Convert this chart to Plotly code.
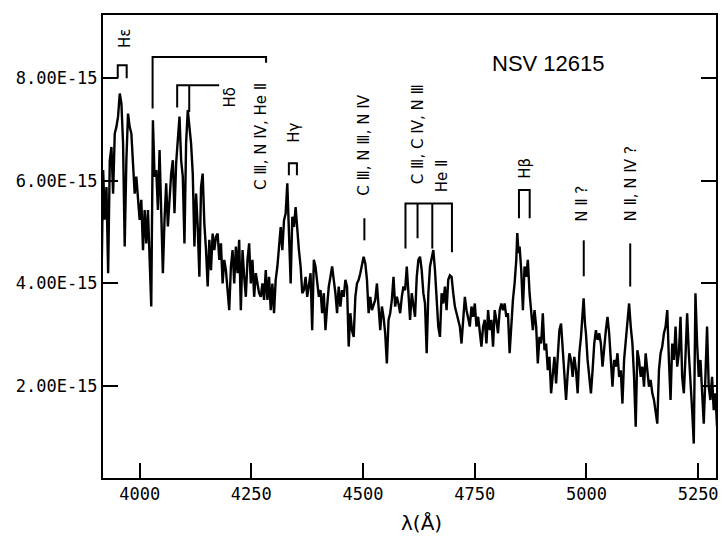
import plotly.graph_objects as go

# ---------------- data (wavelength in Angstrom, flux in units of 1e-15) ----------------
wl_a = [3914.6, 3918.3, 3922.0, 3925.8, 3929.5, 3933.2, 3936.9, 3940.6, 3944.3, 3948.0,
        3951.7, 3955.5, 3959.2, 3962.9, 3966.6, 3970.3, 3974.0, 3977.7, 3981.5, 3985.2,
        3988.9, 3992.6, 3996.3, 4000.0, 4003.7, 4007.5, 4011.2, 4014.9, 4018.6, 4022.3,
        4026.0, 4029.7, 4033.4, 4037.2, 4040.9, 4044.6, 4048.3, 4052.0, 4055.7, 4059.4,
        4063.2, 4066.9, 4070.6, 4074.3, 4078.0, 4081.7, 4085.4, 4089.2, 4092.9, 4096.6,
        4100.3, 4104.0, 4107.7, 4111.4, 4115.1, 4118.9, 4122.6, 4126.3, 4130.0, 4133.7,
        4137.4, 4141.1]
fl_a = [4.00, 6.21, 5.24, 5.88, 4.20, 6.40, 6.66, 5.75, 6.92, 7.05,
        7.25, 7.70, 7.51, 6.73, 4.72, 6.40, 7.31, 7.05, 6.92, 6.40,
        5.75, 6.08, 5.63, 5.24, 5.63, 4.65, 5.43, 4.78, 5.43, 4.59,
        3.55, 7.18, 6.08, 6.21, 5.43, 6.60, 5.37, 4.20, 5.24, 5.95,
        5.11, 5.63, 6.14, 6.40, 5.37, 6.34, 6.73, 7.25, 6.40, 6.08,
        4.78, 6.73, 7.38, 7.05, 6.73, 6.14, 4.72, 5.75, 5.11, 4.13,
        5.88, 6.14]

wl_b = [4144.8, 4148.6, 4152.3, 4156.0, 4159.7, 4163.4, 4167.1, 4170.8, 4174.6, 4178.3,
        4182.0, 4185.7, 4189.4, 4193.1, 4196.8, 4200.5, 4204.3, 4208.0, 4211.7, 4215.4,
        4219.1, 4222.8, 4226.5, 4230.3, 4234.0, 4237.7, 4241.4, 4245.1, 4248.8, 4252.5,
        4256.3, 4260.0, 4263.7, 4267.4, 4271.1, 4274.8, 4278.5, 4282.3, 4286.0, 4289.7,
        4293.4, 4297.1, 4300.8, 4304.5, 4308.3, 4312.0, 4315.7, 4319.4, 4323.1, 4326.8,
        4330.5, 4334.3, 4338.0, 4341.7, 4345.4, 4349.1, 4352.8, 4356.5, 4360.3, 4364.0]
fl_b = [5.17, 4.65, 3.94, 4.85, 4.26, 4.97, 4.65, 4.91, 4.97, 4.46,
        4.78, 4.00, 4.46, 4.26, 3.87, 3.48, 4.33, 4.65, 4.00, 4.72,
        4.20, 4.85, 3.48, 4.65, 4.13, 3.74, 4.46, 4.78, 4.00, 4.46,
        3.74, 4.20, 4.00, 3.81, 3.74, 4.00, 3.68, 4.26, 3.68, 4.13,
        3.48, 4.00, 3.42, 4.07, 4.33, 4.65, 5.10, 4.65, 5.23, 5.36,
        5.95, 4.97, 4.00, 5.30, 5.10, 5.49, 4.97, 4.65, 4.33, 3.81]

wl_c = [4367.6, 4371.4, 4375.1, 4378.8, 4382.5, 4386.2, 4389.9, 4393.6, 4397.4, 4401.1,
        4404.8, 4408.5, 4412.2, 4415.9, 4419.6, 4423.3, 4427.1, 4430.8, 4434.5, 4438.2,
        4441.9, 4445.6, 4449.3, 4453.1, 4456.8, 4460.5, 4464.2, 4467.9, 4471.6, 4475.3,
        4479.1, 4482.8, 4486.5, 4490.2, 4493.9, 4497.6, 4501.3, 4505.1, 4508.8, 4512.5,
        4516.2, 4519.9, 4523.6, 4527.3, 4531.1, 4534.8, 4538.5, 4542.2, 4545.9, 4549.6,
        4553.3, 4557.1, 4560.8, 4564.5, 4568.2, 4571.9, 4575.6, 4579.3, 4583.1, 4586.8]
fl_c = [3.87, 4.13, 3.74, 3.94, 4.20, 3.09, 4.46, 4.33, 4.07, 3.74,
        3.87, 3.42, 3.81, 3.09, 3.55, 3.94, 4.13, 4.33, 4.07, 3.81,
        3.42, 3.94, 3.55, 3.87, 3.74, 4.07, 3.94, 2.77, 3.42, 3.09,
        2.96, 3.74, 4.00, 4.07, 4.20, 4.33, 4.52, 4.39, 4.07, 3.42,
        3.74, 3.48, 3.61, 3.68, 4.00, 3.42, 3.09, 3.55, 3.35, 3.03,
        2.44, 3.29, 3.42, 3.68, 4.13, 3.55, 3.74, 3.61, 3.42, 3.74]

wl_d = [4590.4, 4594.2, 4597.9, 4601.6, 4605.3, 4609.0, 4612.7, 4616.4, 4620.2, 4623.9,
        4627.6, 4631.3, 4635.0, 4638.7, 4642.4, 4646.2, 4649.9, 4653.6, 4657.3, 4661.0,
        4664.7, 4668.4, 4672.2, 4675.9, 4679.6, 4683.3, 4687.0, 4690.7, 4694.4, 4698.2,
        4701.9, 4705.6, 4709.3, 4713.0, 4716.7, 4720.4, 4724.2, 4727.9, 4731.6, 4735.3,
        4739.0, 4742.7, 4746.4, 4750.2, 4753.9, 4757.6, 4761.3, 4765.0, 4768.7, 4772.4,
        4776.2, 4779.9, 4783.6, 4787.3, 4791.0, 4794.7, 4798.4, 4802.1, 4805.9, 4809.6]
fl_d = [3.94, 3.87, 4.33, 3.81, 3.29, 3.81, 3.55, 3.35, 4.13, 4.46,
        4.52, 4.26, 3.81, 3.61, 2.64, 3.81, 4.33, 4.46, 4.65, 4.26,
        3.68, 3.16, 2.96, 3.81, 3.61, 3.94, 3.48, 4.07, 4.16, 4.13,
        3.81, 3.55, 3.42, 3.29, 3.16, 2.83, 3.35, 3.74, 3.48, 3.29,
        3.16, 3.55, 3.35, 3.61, 3.16, 3.35, 3.03, 2.77, 3.16, 3.29,
        2.83, 3.48, 3.09, 3.29, 2.77, 3.48, 3.29, 3.03, 3.48, 3.61]

wl_e = [4813.2, 4817.0, 4820.7, 4824.4, 4828.1, 4831.8, 4835.5, 4839.2, 4843.0, 4845.2,
        4848.1, 4850.4, 4854.1, 4857.8, 4861.5, 4865.2, 4868.9, 4872.7, 4876.4, 4880.1,
        4883.8, 4887.5, 4891.2, 4894.9, 4898.7, 4902.4, 4906.1, 4909.8, 4913.5, 4917.2,
        4920.9, 4924.6, 4928.4, 4932.1, 4935.8, 4939.5, 4943.2, 4946.9, 4950.6, 4954.4,
        4958.1, 4961.8, 4965.5, 4969.2, 4972.9, 4976.6, 4980.4, 4984.1, 4987.8, 4991.5,
        4993.7, 4996.7, 4998.9, 5002.6, 5006.3, 5010.1, 5013.8, 5017.5, 5021.2, 5024.9,
        5028.6, 5032.3]
fl_e = [3.48, 3.61, 3.35, 3.42, 2.64, 3.29, 3.68, 4.00, 4.46, 4.98,
        4.59, 4.72, 4.26, 3.48, 4.33, 4.13, 4.46, 3.81, 3.48, 3.09,
        3.48, 3.16, 2.44, 2.96, 2.83, 3.42, 2.70, 2.83, 2.31, 2.57,
        1.86, 2.31, 2.57, 2.05, 2.70, 3.09, 3.22, 2.64, 2.18, 1.73,
        2.25, 2.64, 2.51, 2.18, 2.57, 2.31, 1.86, 2.64, 2.96, 3.48,
        3.71, 3.22, 3.03, 2.51, 2.18, 1.86, 2.31, 2.83, 3.09, 2.90,
        3.03, 2.83]

wl_f = [5036.0, 5039.8, 5043.5, 5047.2, 5050.9, 5054.6, 5058.3, 5062.0, 5065.8, 5069.5,
        5073.2, 5076.9, 5080.6, 5084.3, 5088.0, 5091.8, 5095.5, 5099.2, 5102.9, 5106.6,
        5110.3, 5114.0, 5117.7, 5121.5, 5125.2, 5128.9, 5132.6, 5136.3, 5140.0, 5143.7,
        5147.5, 5151.2, 5154.9, 5158.6, 5162.3, 5166.0, 5169.7, 5173.5, 5177.2, 5180.9,
        5184.6, 5188.3, 5192.0, 5195.7, 5199.5, 5203.2, 5206.9, 5210.6, 5214.3, 5218.0,
        5221.7, 5225.4, 5229.2, 5232.9, 5236.6, 5240.3, 5244.0, 5247.7, 5251.4, 5255.2,
        5258.9, 5262.6, 5266.3, 5270.0, 5273.7, 5277.4, 5281.2, 5284.9, 5288.6, 5292.3]
fl_f = [2.38, 2.83, 3.09, 3.35, 3.03, 2.51, 1.99, 2.51, 2.38, 2.64,
        2.18, 2.31, 1.66, 2.51, 2.83, 3.16, 3.61, 3.16, 2.83, 2.18,
        1.21, 2.70, 2.51, 2.18, 2.38, 1.99, 2.64, 2.31, 1.99, 2.12,
        1.86, 1.73, 1.53, 1.27, 2.31, 2.64, 2.77, 3.03, 3.16, 3.48,
        2.51, 1.73, 2.83, 2.51, 3.16, 2.38, 2.64, 3.35, 2.18, 1.86,
        2.57, 3.42, 2.64, 2.18, 1.53, 0.88, 3.81, 2.83, 2.18, 2.51,
        1.86, 1.27, 2.18, 3.16, 1.99, 1.73, 2.18, 1.53, 1.86, 1.21]

wavelength = wl_a + wl_b + wl_c + wl_d + wl_e + wl_f
flux = fl_a + fl_b + fl_c + fl_d + fl_e + fl_f

x_ticks = [4000, 4250, 4500, 4750, 5000, 5250]
y_ticks = [2, 4, 6, 8]
y_ticktext = ["2.00E-15", "4.00E-15", "6.00E-15", "8.00E-15"]

# line identifications: (text, wavelength, flux position)
labels = [
    ("H\u03b5", 3967, 8.78),
    ("C \u2162, N \u2163, He \u2161", 4270, 6.86),
    ("H\u03b4", 4203, 7.63),
    ("H\u03b3", 4345, 6.93),
    ("C \u2162, N \u2162, N \u2163", 4503, 6.69),
    ("C \u2162, C \u2163, N \u2162", 4622, 6.90),
    ("He \u2161", 4677, 6.09),
    ("H\u03b2", 4862, 6.25),
    ("N \u2161 ?", 4991, 5.56),
    ("N \u2161, N \u2163 ?", 5099, 5.94),
]

# bracket / marker polylines (wavelength, flux)
markers = [
    ([3951, 3951, 3971, 3971], [8.00, 8.25, 8.25, 8.00]),                 # H epsilon
    ([4029, 4029, 4283, 4283], [7.41, 8.41, 8.41, 8.30]),                 # C III, N IV, He II
    ([4084, 4084, 4178], [7.43, 7.86, 7.86]),                             # H delta
    ([4111, 4111], [7.34, 7.86]),
    ([4334, 4334, 4352, 4352], [6.11, 6.34, 6.34, 6.11]),                 # H gamma
    ([4503, 4503], [4.84, 5.27]),                                         # C III, N III, N IV
    ([4595, 4595, 4699, 4699], [4.68, 5.56, 5.56, 4.61]),                 # C III, C IV, N III / He II
    ([4622, 4622], [4.88, 5.56]),
    ([4655, 4655], [4.68, 5.56]),
    ([4849, 4849, 4873, 4873], [5.27, 5.82, 5.82, 5.27]),                 # H beta
    ([4994, 4994], [4.14, 4.84]),                                         # N II ?
    ([5098, 5098], [3.94, 4.78]),                                         # N II, N IV ?
]

fig = go.Figure()

fig.add_trace(go.Scatter(x=wavelength, y=flux, mode="lines",
                         line=dict(color="black", width=2.4), showlegend=False,
                         hoverinfo="skip"))

for mx, my in markers:
    fig.add_trace(go.Scatter(x=mx, y=my, mode="lines",
                             line=dict(color="black", width=2), showlegend=False,
                             hoverinfo="skip"))

for text, lx, ly in labels:
    fig.add_annotation(x=lx, y=ly, text=text, textangle=-90, showarrow=False,
                       font=dict(family="DejaVu Sans", size=15, color="black"),
                       xanchor="center", yanchor="middle")

fig.add_annotation(x=4916, y=8.29, text="NSV 12615", showarrow=False,
                   font=dict(family="Liberation Sans", size=22, color="black"),
                   xanchor="center", yanchor="middle")

fig.add_annotation(x=4630, y=-0.097, xref="x", yref="paper", text="\u03bb(\u00c5)",
                   showarrow=False, font=dict(family="DejaVu Sans", size=20, color="black"),
                   xanchor="center", yanchor="middle")

fig.update_xaxes(range=[3918, 5290], tickvals=x_ticks, ticks="inside", ticklen=15,
                 tickwidth=2, tickcolor="black", showline=True, linecolor="black",
                 linewidth=2, mirror=True, showgrid=False, zeroline=False,
                 tickfont=dict(family="DejaVu Sans Mono", size=17, color="black"))
fig.update_yaxes(range=[0.21, 9.23], tickvals=y_ticks, ticktext=y_ticktext,
                 ticks="inside", ticklen=15, tickwidth=2, tickcolor="black",
                 showline=True, linecolor="black", linewidth=2, mirror="ticks",
                 showgrid=False, zeroline=False,
                 tickfont=dict(family="DejaVu Sans Mono", size=17, color="black"))

fig.update_layout(width=722, height=538, margin=dict(l=103, r=3, t=15, b=60),
                  paper_bgcolor="white", plot_bgcolor="white")

# remove the default page margin so the figure sits at the window's top-left corner
fig.write_html("out.html",
               config={"displayModeBar": False},
               post_script="document.body.style.margin='0';"
                           "document.body.style.overflow='hidden';")
